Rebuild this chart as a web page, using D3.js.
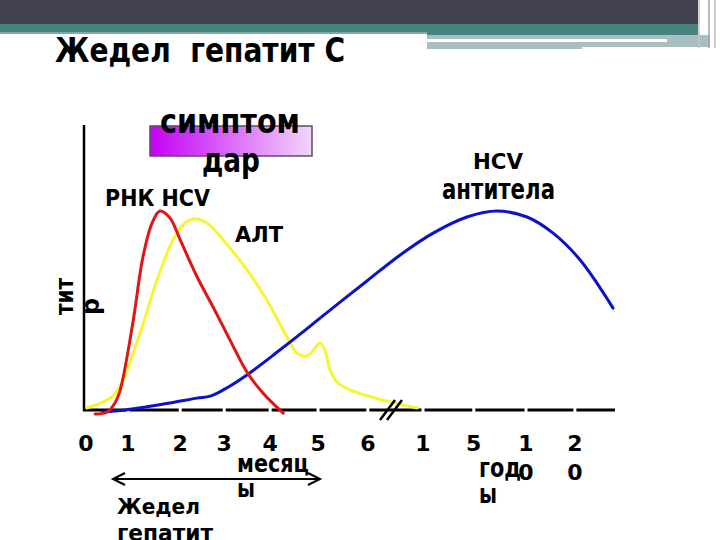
<!DOCTYPE html>
<html><head><meta charset="utf-8">
<script src="https://cdn.jsdelivr.net/npm/d3@7"></script>
<style>
html,body{margin:0;padding:0;background:#fff;}
svg{display:block;}
text{font-family:"DejaVu Sans",sans-serif;font-weight:bold;fill:#000;white-space:pre;}
</style>
</head><body>
<svg id="c" width="720" height="540"></svg>
<script>
// ---- data ----
const xTickPos = [0.06, 0.93, 2.01, 2.92, 3.87, 4.86, 5.89, 7.03, 8.08, 9.16, 10.17];
const xTickLabels = ["0", "1", "2", "3", "4", "5", "6", "1", "5", "10", "20"];
const seriesNames = ["РНК HCV", "АЛТ", "HCV антитела"];
const rnaPoints = [[0.25,-1.4],[0.50,-0.7],[0.66,2.5],[0.77,7.1],[1.03,30.7],[1.24,54.1],[1.43,66.1],[1.59,70.3],[1.80,67.8],[2.01,60.1],[2.36,47.0],[2.69,36.4],[3.04,24.7],[3.39,13.4],[3.72,6.0],[4.14,-1.1]];
const altPoints = [[0.08,0.7],[0.41,2.8],[0.62,4.9],[0.83,10.6],[1.18,27.2],[1.53,45.9],[1.86,60.1],[2.07,65.4],[2.27,67.5],[2.56,66.1],[2.90,60.1],[3.39,49.5],[3.80,38.9],[4.14,28.3],[4.43,20.1],[4.63,19.1],[4.80,21.9],[4.90,23.7],[5.00,21.2],[5.11,14.1],[5.25,9.9],[5.52,7.1],[6.20,3.5],[6.91,0.7]];
const antibodyPoints = [[0.41,-0.7],[0.87,0],[1.80,2.5],[2.36,4.2],[2.63,4.9],[2.90,7.1],[3.39,12.4],[4.07,21.2],[4.49,26.8],[4.94,33.0],[5.87,45.6],[6.56,54.8],[7.24,62.5],[7.94,68.2],[8.56,70.3],[9.18,68.2],[9.72,62.5],[10.28,53.0],[10.96,36.0]];
const seriesColors = ["#e01515", "#f7f532", "#0b12c8"];

// ---- drawing ----
const svg = d3.select("#c");
const x = d3.scaleLinear().domain([0, 11]).range([83, 615]);
const y = d3.scaleLinear().domain([0, 100]).range([410, 127]);

// header decoration
svg.append("rect").attr("x",0).attr("y",0).attr("width",698).attr("height",24).attr("fill","#41414f");
svg.append("rect").attr("x",0).attr("y",24).attr("width",698).attr("height",8).attr("fill","#478380");
svg.append("rect").attr("x",0).attr("y",32).attr("width",427).attr("height",2).attr("fill","#7ea9a7");
svg.append("rect").attr("x",427).attr("y",32).attr("width",271).attr("height",3).attr("fill","#478380");
svg.append("rect").attr("x",427).attr("y",35).attr("width",283).attr("height",12).attr("fill","#a8bec1");
svg.append("rect").attr("x",427).attr("y",39).attr("width",240).attr("height",3).attr("fill","#ffffff");
svg.append("rect").attr("x",427).attr("y",47).attr("width",155).attr("height",2).attr("fill","#a8bec1");
[[699,"#c5c5cc"],[709,"#a0a0a8"],[715,"#c0c0c8"]].forEach(([lx,c]) => {
  svg.append("line").attr("x1",lx).attr("x2",lx).attr("y1",0).attr("y2",48).attr("stroke",c).attr("stroke-width",1.5);
});

function txt(str, tx, ty, size, len, anchor) {
  const t = svg.append("text").attr("x", tx).attr("y", ty).attr("font-size", size).text(str);
  if (len) t.attr("textLength", len).attr("lengthAdjust", "spacingAndGlyphs");
  if (anchor) t.attr("text-anchor", anchor);
  return t;
}

// title
txt("Жедел  гепатит С", 55, 62, 34, 290);

// symptom box
const defs = svg.append("defs");
const grad = defs.append("linearGradient").attr("id","sg").attr("x1","0%").attr("x2","100%").attr("y1","0%").attr("y2","0%");
grad.append("stop").attr("offset","0%").attr("stop-color","#c400f4");
grad.append("stop").attr("offset","100%").attr("stop-color","#f3d6fb");
svg.append("rect").attr("x",150).attr("y",126).attr("width",162).attr("height",30)
  .attr("fill","url(#sg)").attr("stroke","#5d4a6c").attr("stroke-width",1.5);
txt("симптом", 160, 133, 33, 140);
txt("дар", 202, 172, 33, 58);

// axes
svg.append("line").attr("x1",84).attr("x2",84).attr("y1",125).attr("y2",411).attr("stroke","#000").attr("stroke-width",2.5);
svg.append("line").attr("x1",x(0)).attr("x2",x(11)).attr("y1",y(0)).attr("y2",y(0)).attr("stroke","#000").attr("stroke-width",3);
xTickPos.slice(1).forEach(p => {
  svg.append("rect").attr("x", x(p) - 1.5).attr("y", y(0) - 3).attr("width", 3).attr("height", 6).attr("fill", "#fff");
});

// tick labels
xTickPos.forEach((p, i) => {
  const t = svg.append("text").attr("x", x(p)).attr("y", 451).attr("font-size", 22).attr("text-anchor", "middle");
  xTickLabels[i].split("").forEach((ch, k) => {
    t.append("tspan").attr("x", x(p)).attr("dy", k === 0 ? 0 : 29).text(ch);
  });
});

// curves
const line = d3.line().x(d => x(d[0])).y(d => y(d[1])).curve(d3.curveCatmullRom.alpha(0.5));
[[altPoints, 1], [antibodyPoints, 2], [rnaPoints, 0]].forEach(([pts, ci]) => {
  svg.append("path").attr("d", line(pts)).attr("fill", "none")
    .attr("stroke", seriesColors[ci]).attr("stroke-width", 3).attr("stroke-linecap", "round");
});

// axis break marks
svg.append("line").attr("x1",380).attr("y1",420).attr("x2",395).attr("y2",400).attr("stroke","#000").attr("stroke-width",2.5);
svg.append("line").attr("x1",387).attr("y1",420).attr("x2",402).attr("y2",400).attr("stroke","#000").attr("stroke-width",2.5);

// series labels
txt("РНК HCV", 105, 206, 23, 105);
txt("АЛТ", 235, 242, 22, 48);
txt("HCV", 473, 169, 22, 50);
txt("антитела", 442, 199, 29, 113);

// y label (rotated, wrapped)
txt("тит", 0, 0, 24, 37).attr("transform", "translate(73,315) rotate(-90)");
txt("р", 0, 0, 24).attr("transform", "translate(99,315) rotate(-90)");

// time unit labels
txt("месяц", 237, 472, 25, 72);
txt("ы", 237, 497, 25, 18);
txt("год", 479, 477, 26, 42);
txt("ы", 479, 503, 26, 18);

// acute period arrow
svg.append("line").attr("x1",113).attr("x2",320).attr("y1",479).attr("y2",479).attr("stroke","#000").attr("stroke-width",2);
svg.append("path").attr("d","M125,473 L113,479 L125,485").attr("fill","none").attr("stroke","#000").attr("stroke-width",2);
svg.append("path").attr("d","M308,473 L320,479 L308,485").attr("fill","none").attr("stroke","#000").attr("stroke-width",2);
txt("Жедел", 117, 514, 21, 83);
txt("гепатит", 117, 541, 23, 96);
</script>
</body></html>
